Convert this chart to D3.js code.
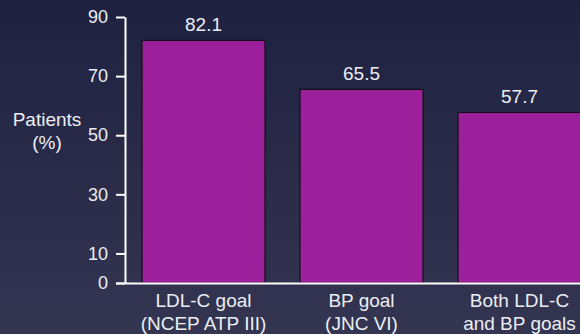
<!DOCTYPE html>
<html>
<head>
<meta charset="utf-8">
<script src="https://cdn.jsdelivr.net/npm/d3@7"></script>
<style>
  html, body { margin: 0; padding: 0; overflow: hidden; }
  body { width: 580px; height: 334px; }
  text { font-family: "Liberation Sans", Arial, sans-serif; fill: #eceef4; }
</style>
</head>
<body>
<div id="chart"></div>
<script>
// Chart data
const categories = ["LDL-C goal|(NCEP ATP III)", "BP goal|(JNC VI)", "Both LDL-C|and BP goals"];
const values = [82.1, 65.5, 57.7];
const yTicks = [0, 10, 30, 50, 70, 90];
const yLabel = ["Patients", "(%)"];

const width = 580, height = 334;

const svg = d3.select("#chart")
  .append("svg")
  .attr("width", width)
  .attr("height", height);

// Background gradient
const grad = svg.append("defs")
  .append("linearGradient")
  .attr("id", "bg")
  .attr("x1", "0%").attr("y1", "0%")
  .attr("x2", "0%").attr("y2", "100%");
grad.append("stop").attr("offset", "0%").attr("stop-color", "#1f2141");
grad.append("stop").attr("offset", "100%").attr("stop-color", "#333551");

svg.append("rect")
  .attr("width", width)
  .attr("height", height)
  .attr("fill", "url(#bg)");

// Scales
const x = d3.scaleBand()
  .domain(categories)
  .range([142, 581])
  .paddingInner(0.2215)
  .paddingOuter(0);

const y = d3.scaleLinear()
  .domain([0, 90])
  .range([283, 17]);

// Bars
svg.selectAll("rect.bar")
  .data(values)
  .join("rect")
  .attr("class", "bar")
  .attr("x", (d, i) => x(categories[i]))
  .attr("y", d => y(d))
  .attr("width", x.bandwidth())
  .attr("height", d => y(0) - y(d))
  .attr("fill", "#9c1f9c")
  .attr("stroke", "#111")
  .attr("stroke-width", 1.2);

// Value labels
svg.selectAll("text.val")
  .data(values)
  .join("text")
  .attr("class", "val")
  .attr("x", (d, i) => x(categories[i]) + x.bandwidth() / 2)
  .attr("y", d => y(d) - 9)
  .attr("text-anchor", "middle")
  .style("font-size", "19px")
  .text(d => d.toFixed(1));

// Y axis
const yAxis = svg.append("g")
  .attr("transform", "translate(125,0)")
  .call(d3.axisLeft(y).tickValues(yTicks).tickSize(9).tickPadding(8).tickSizeOuter(0));
yAxis.select(".domain").attr("stroke", "#fff").attr("stroke-width", 2);
yAxis.selectAll(".tick line").attr("stroke", "#fff").attr("stroke-width", 2);
yAxis.selectAll(".tick text")
  .attr("fill", "#eceef4")
  .style("font-family", "Liberation Sans, Arial, sans-serif")
  .style("font-size", "18px");

// X axis baseline
svg.append("line")
  .attr("x1", 116).attr("x2", width)
  .attr("y1", y(0) + 0.5).attr("y2", y(0) + 0.5)
  .attr("stroke", "#fff")
  .attr("stroke-width", 2);

// Category labels
const cat = svg.selectAll("text.cat")
  .data(categories)
  .join("text")
  .attr("class", "cat")
  .attr("text-anchor", "middle")
  .style("font-size", "19px");
cat.selectAll("tspan")
  .data(d => d.split("|").map(s => ({ s, c: d })))
  .join("tspan")
  .attr("x", d => x(d.c) + x.bandwidth() / 2)
  .attr("y", (d, i) => 307 + i * 23)
  .text(d => d.s);

// Y axis title
svg.append("text")
  .attr("text-anchor", "middle")
  .style("font-size", "19px")
  .selectAll("tspan")
  .data(yLabel)
  .join("tspan")
  .attr("x", 47)
  .attr("y", (d, i) => 126 + i * 23)
  .text(d => d);
</script>
</body>
</html>
